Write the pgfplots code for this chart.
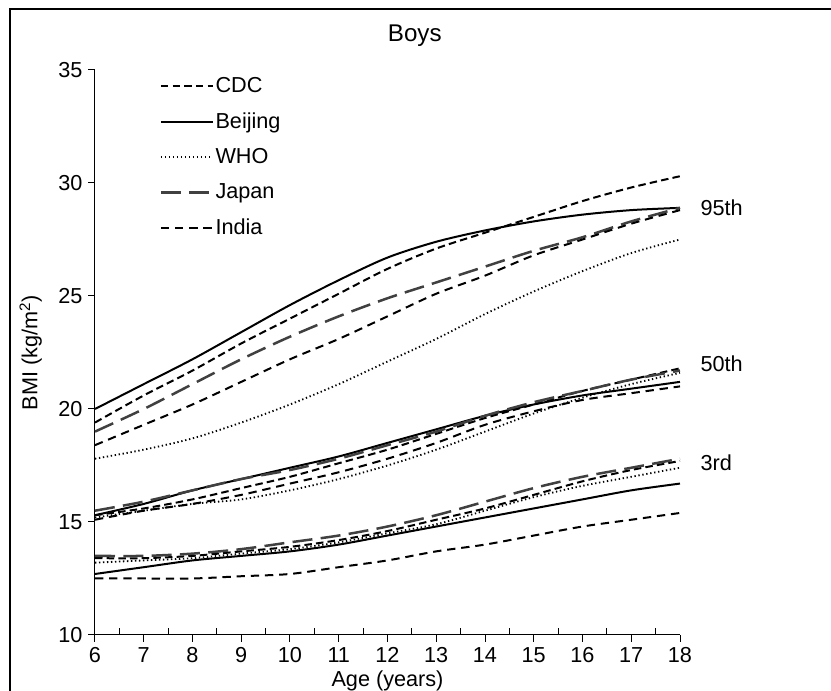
\documentclass[border=0pt]{standalone}
\usepackage{pgfplots}
\pgfplotsset{compat=1.18}
\usepackage{pgfplotstable}
\usepackage{fontspec}
\setmainfont{Liberation Sans}

\pgfplotstableread{
age p3 p50 p95
6  13.4 15.3 19.4
7  13.4 15.6 20.6
8  13.5 16.0 21.7
9  13.7 16.5 22.9
10 13.9 17.0 24.0
11 14.2 17.6 25.1
12 14.6 18.2 26.2
13 15.1 18.9 27.1
14 15.6 19.6 27.8
15 16.2 20.2 28.5
16 16.8 20.8 29.2
17 17.3 21.3 29.8
18 17.7 21.8 30.3
}\cdc
\pgfplotstableread{
age p3 p50 p95
6  12.7 15.3 20.0
7  13.0 15.8 21.1
8  13.3 16.4 22.2
9  13.5 16.9 23.4
10 13.7 17.4 24.6
11 14.0 17.9 25.7
12 14.4 18.5 26.7
13 14.8 19.1 27.4
14 15.2 19.7 27.9
15 15.6 20.2 28.3
16 16.0 20.6 28.6
17 16.4 20.9 28.8
18 16.7 21.2 28.9
}\beijing
\pgfplotstableread{
age p3 p50 p95
6  13.2 15.2 17.8
7  13.3 15.5 18.2
8  13.4 15.8 18.7
9  13.6 16.0 19.4
10 13.8 16.4 20.2
11 14.1 16.9 21.1
12 14.5 17.5 22.1
13 14.9 18.2 23.1
14 15.5 19.0 24.2
15 16.1 19.8 25.2
16 16.6 20.5 26.1
17 17.0 21.1 26.9
18 17.4 21.6 27.5
}\who
\pgfplotstableread{
age p3 p50 p95
6  13.5 15.5 19.0
7  13.5 15.9 20.0
8  13.6 16.4 21.1
9  13.8 16.9 22.2
10 14.1 17.3 23.2
11 14.4 17.8 24.1
12 14.8 18.4 24.9
13 15.3 19.0 25.6
14 15.9 19.7 26.3
15 16.5 20.3 27.0
16 17.0 20.8 27.6
17 17.4 21.3 28.3
18 17.8 21.7 28.9
}\japan
\pgfplotstableread{
age p3 p50 p95
6  12.5 15.1 18.4
7  12.5 15.5 19.3
8  12.5 15.8 20.2
9  12.6 16.2 21.2
10 12.7 16.7 22.2
11 13.0 17.2 23.1
12 13.3 17.8 24.1
13 13.7 18.5 25.1
14 14.0 19.3 25.9
15 14.4 19.9 26.8
16 14.8 20.4 27.5
17 15.1 20.7 28.2
18 15.4 21.0 28.8
}\india

\begin{document}
\begin{tikzpicture}
\begin{axis}[
  name=ax,
  scale only axis,
  width=351pt, height=339pt,
  xmin=6, xmax=18, ymin=10, ymax=35,
  axis x line*=bottom, axis y line*=left,
  axis line style={line width=0.6pt},
  xtick={6,...,18}, ytick={10,15,...,35},
  minor x tick num=1,
  tick align=outside,
  major tick length=4pt,
  minor tick length=4pt,
  minor x tick style={yshift=4pt},
  tick style={black, line width=0.6pt},
  /pgf/number format/assume math mode=true,
  ticklabel style={font=\fontsize{13}{15}\selectfont},
  xlabel={Age (years)},
  ylabel={BMI (kg/m\textsuperscript{2})},
  label style={font=\fontsize{13}{15}\selectfont},
  xlabel style={yshift=2pt},
  ylabel style={yshift=3pt},
  clip=false,
  legend style={draw=none, fill=none, at={(0.11,0.99)}, anchor=north west,
    font=\fontsize{13}{15}\selectfont, row sep=8.5pt, inner sep=0pt,
    nodes={inner sep=1pt}},
  legend cell align=left,
  legend image code/.code={\draw[#1] (0pt,0pt) -- (31pt,0pt);},
  every axis plot/.append style={smooth},
]
\tikzset{
  cdcs/.style={black, line width=1.2pt, dash pattern=on 4.5pt off 2.5pt},
  beis/.style={black, line width=1.2pt},
  whos/.style={black, line width=1.1pt, dash pattern=on 0.8pt off 1.6pt},
  japs/.style={black!75, line width=1.5pt, dash pattern=on 12pt off 5pt},
  inds/.style={black, line width=1.2pt, dash pattern=on 5pt off 3.5pt},
}
\addplot[cdcs] table[x=age,y=p95]{\cdc};
\addlegendentry{CDC}
\addplot[beis] table[x=age,y=p95]{\beijing};
\addlegendentry{Beijing}
\addplot[whos] table[x=age,y=p95]{\who};
\addlegendentry{WHO}
\addplot[japs] table[x=age,y=p95]{\japan};
\addlegendentry{Japan}
\addplot[inds] table[x=age,y=p95]{\india};
\addlegendentry{India}

\addplot[cdcs, forget plot] table[x=age,y=p50]{\cdc};
\addplot[beis, forget plot] table[x=age,y=p50]{\beijing};
\addplot[whos, forget plot] table[x=age,y=p50]{\who};
\addplot[japs, forget plot] table[x=age,y=p50]{\japan};
\addplot[inds, forget plot] table[x=age,y=p50]{\india};

\addplot[cdcs, forget plot] table[x=age,y=p3]{\cdc};
\addplot[beis, forget plot] table[x=age,y=p3]{\beijing};
\addplot[whos, forget plot] table[x=age,y=p3]{\who};
\addplot[japs, forget plot] table[x=age,y=p3]{\japan};
\addplot[inds, forget plot] table[x=age,y=p3]{\india};

\node[anchor=west, font=\fontsize{13}{15}\selectfont] at (axis cs:18.3,28.9) {95th};
\node[anchor=west, font=\fontsize{13}{15}\selectfont] at (axis cs:18.3,22.0) {50th};
\node[anchor=west, font=\fontsize{13}{15}\selectfont] at (axis cs:18.3,17.6) {3rd};
\node[font=\fontsize{14.5}{17}\selectfont] at (axis cs:12.56,36.5) {Boys};
\end{axis}
\pgfresetboundingbox
\useasboundingbox ([xshift=-57pt,yshift=-33.6pt]ax.south west) rectangle ([xshift=441.6pt,yshift=381pt]ax.south west);
\draw[line width=0.7pt] ([xshift=-51pt,yshift=-33.6pt]ax.south west) -- ([xshift=-51pt,yshift=375.6pt]ax.south west) -- ([xshift=441.6pt,yshift=375.6pt]ax.south west);
\end{tikzpicture}
\end{document}
